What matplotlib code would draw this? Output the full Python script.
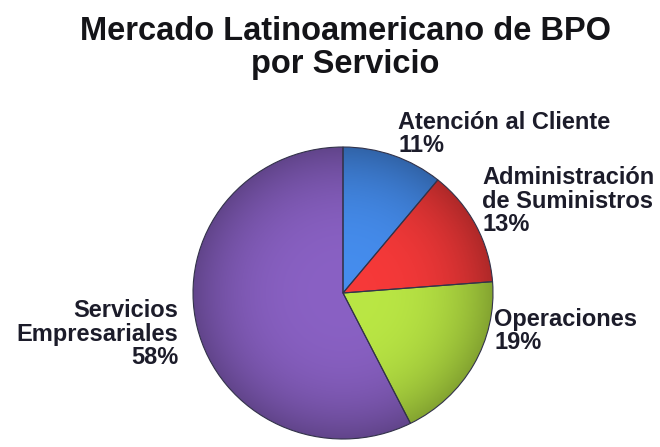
import numpy as np
import matplotlib.pyplot as plt
from matplotlib.colors import to_rgb

# Participación por servicio (%)
servicios = ["Atención al Cliente", "Administración\nde Suministros", "Operaciones",
             "Servicios\nEmpresariales"]
porcentajes = [11, 13, 19, 58]
colores = ["#3f80d8", "#e03434", "#a9d23e", "#7d58b2"]

plt.rcParams['font.family'] = ['Liberation Sans', 'DejaVu Sans']

fig = plt.figure(figsize=(6.6, 4.47), dpi=100)
W, H = 660, 447

# ejes del pastel (centro y radios en pixeles)
cx, cy, rx, ry = 343, 293, 150, 146
ax = fig.add_axes([(cx - rx) / W, (H - cy - ry) / H, 2 * rx / W, 2 * ry / H])

wedges, _ = ax.pie(porcentajes, colors=colores, startangle=90, counterclock=False,
                   radius=1, wedgeprops=dict(edgecolor="#33334a", linewidth=0.8))
ax.set_aspect("auto")
ax.set_xlim(-1, 1)
ax.set_ylim(-1, 1)
ax.axis("off")

# sombreado radial: más claro hacia el centro, más oscuro en el borde
xx, yy = np.meshgrid(np.linspace(-1, 1, 400), np.linspace(-1, 1, 400))
rr = np.sqrt(xx ** 2 + yy ** 2)
shade = 1.10 - 0.32 * np.clip(rr, 0, 1) ** 3
for w, c in zip(wedges, colores):
    base = np.array(to_rgb(c))
    img = np.clip(base[None, None, :] * shade[:, :, None], 0, 1)
    im = ax.imshow(img, extent=(-1, 1, -1, 1), origin="lower", zorder=1.5,
                   interpolation="bilinear", aspect="auto")
    im.set_clip_path(w)
    w.set_zorder(2)
    w.set_facecolor("none")

fig.text(345 / W, 1 - 48 / H, "Mercado Latinoamericano de BPO\npor Servicio",
         ha="center", va="center", fontsize=23.5, fontweight="bold",
         linespacing=1.05, color="#141418")

lab = dict(fontsize=17, fontweight="bold", color="#1c1c2a", linespacing=1.05)
fig.text(398 / W, 1 - 134 / H, f"{servicios[0]}\n{porcentajes[0]}%",
         ha="left", va="center", **lab)
fig.text(482 / W, 1 - 201 / H, f"{servicios[1]}\n{porcentajes[1]}%",
         ha="left", va="center", **lab)
fig.text(494 / W, 1 - 331 / H, f"{servicios[2]}\n{porcentajes[2]}%",
         ha="left", va="center", **lab)
fig.text(178 / W, 1 - 334 / H, f"{servicios[3]}\n{porcentajes[3]}%",
         ha="right", va="center", multialignment="right", **lab)

fig.savefig("out.png", dpi=100, facecolor="white")
